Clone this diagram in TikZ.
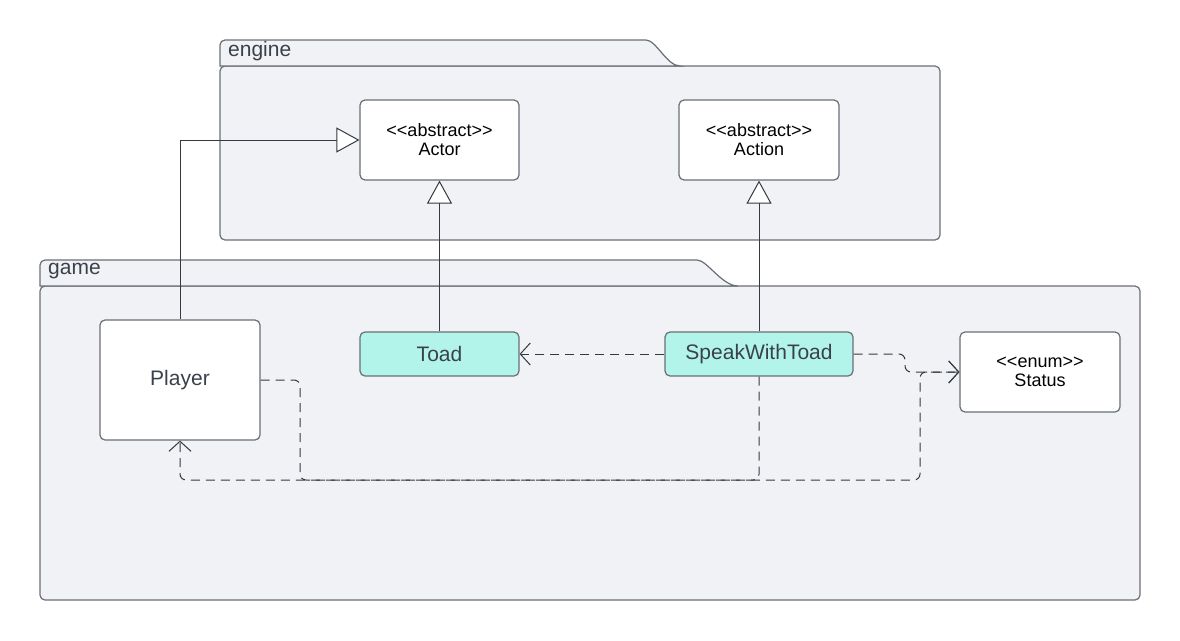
\documentclass[tikz,border=0pt]{standalone}
\usepackage{fontspec}
\setmainfont{Liberation Sans}
\usetikzlibrary{arrows.meta}
\definecolor{pkgfill}{HTML}{F1F2F5}
\definecolor{pkgline}{HTML}{6A6E75}
\definecolor{teal}{HTML}{B3F4EA}
\definecolor{txt}{HTML}{3A414A}
\definecolor{conn}{HTML}{353A42}
\newcommand{\stereo}[1]{<\kern0pt<#1>\kern0pt>}
\tikzset{
  pkg/.style={draw=pkgline, fill=pkgfill, line width=1.2pt},
  cls/.style={draw=pkgline, fill=white, line width=1.2pt, rounded corners=5pt, inner sep=0pt, align=center},
  bigcls/.style={cls, font=\fontsize{21}{24}\selectfont, text=txt},
  smallcls/.style={cls, font=\fontsize{18}{20}\selectfont, text=black},
  tealcls/.style={bigcls, fill=teal},
  pkglabel/.style={anchor=west, inner sep=0pt, font=\fontsize{21}{24}\selectfont, text=txt},
  gen/.style={draw=conn, line width=1pt, -{Triangle[fill=white, length=23pt, width=25pt, line width=1pt]}},
  dep/.style={draw=conn, line width=1pt, dash pattern=on 9pt off 6pt, rounded corners=6pt, -{Straight Barb[length=10pt, width=22pt, line width=1pt]}},
}
\begin{document}
\begin{tikzpicture}[x=1pt, y=-1pt]
\useasboundingbox (0,0) rectangle (1180,640);
% engine package
\path[pkg, rounded corners=5pt] (220,66) rectangle (940,240);
\path[pkg] (220,66) [rounded corners=5pt] -- (220,40) [rounded corners=0pt] -- (646,40) .. controls (656,40) and (667,66) .. (680,66) -- cycle;
\node[pkglabel] (englabel) at (228,51) {engine};
% game package
\path[pkg, rounded corners=5pt] (40,286) rectangle (1140,600);
\path[pkg] (40,286) [rounded corners=5pt] -- (40,260) [rounded corners=0pt] -- (697,260) .. controls (707,260) and (722,286) .. (738,286) -- cycle;
\node[pkglabel] (gamelabel) at (48,271) {game};
% classes
\node[smallcls, minimum width=159pt, minimum height=80pt] (actor) at (439.5,140) {\stereo{abstract}\\[-1pt]Actor};
\node[smallcls, minimum width=160pt, minimum height=80pt] (action) at (759,140) {\stereo{abstract}\\[-1pt]Action};
\node[bigcls, minimum width=160pt, minimum height=120pt] (player) at (180,380) {Player};
\node[tealcls, minimum width=159pt, minimum height=44pt] (toad) at (439.5,354) {Toad};
\node[tealcls, minimum width=188pt, minimum height=44pt] (swt) at (759,354) {SpeakWithToad};
\node[smallcls, minimum width=160pt, minimum height=80pt] (status) at (1040,372) {\stereo{enum}\\[-1pt]Status};
% generalizations
\draw[gen] (player.north) |- (actor.west);
\draw[gen] (toad.north) -- (actor.south);
\draw[gen] (swt.north) -- (action.south);
% dependencies
\draw[dep] (swt.west) -- (toad.east);
\coordinate (s1) at (905,354);
\coordinate (s2) at (905,372);
\draw[dep] (swt.east) -- (s1) -- (s2) -- (status.west);
\coordinate (p1) at (300,380);
\coordinate (p2) at (300,480);
\coordinate (p3) at (920,480);
\coordinate (p4) at (920,372);
\draw[dep] (player.east) -- (p1) -- (p2) -- (p3) -- (p4) -- (status.west);
\coordinate (w1) at (759,480);
\coordinate (w2) at (180,480);
\draw[dep] (swt.south) -- (w1) -- (w2) -- (player.south);
\end{tikzpicture}
\end{document}
